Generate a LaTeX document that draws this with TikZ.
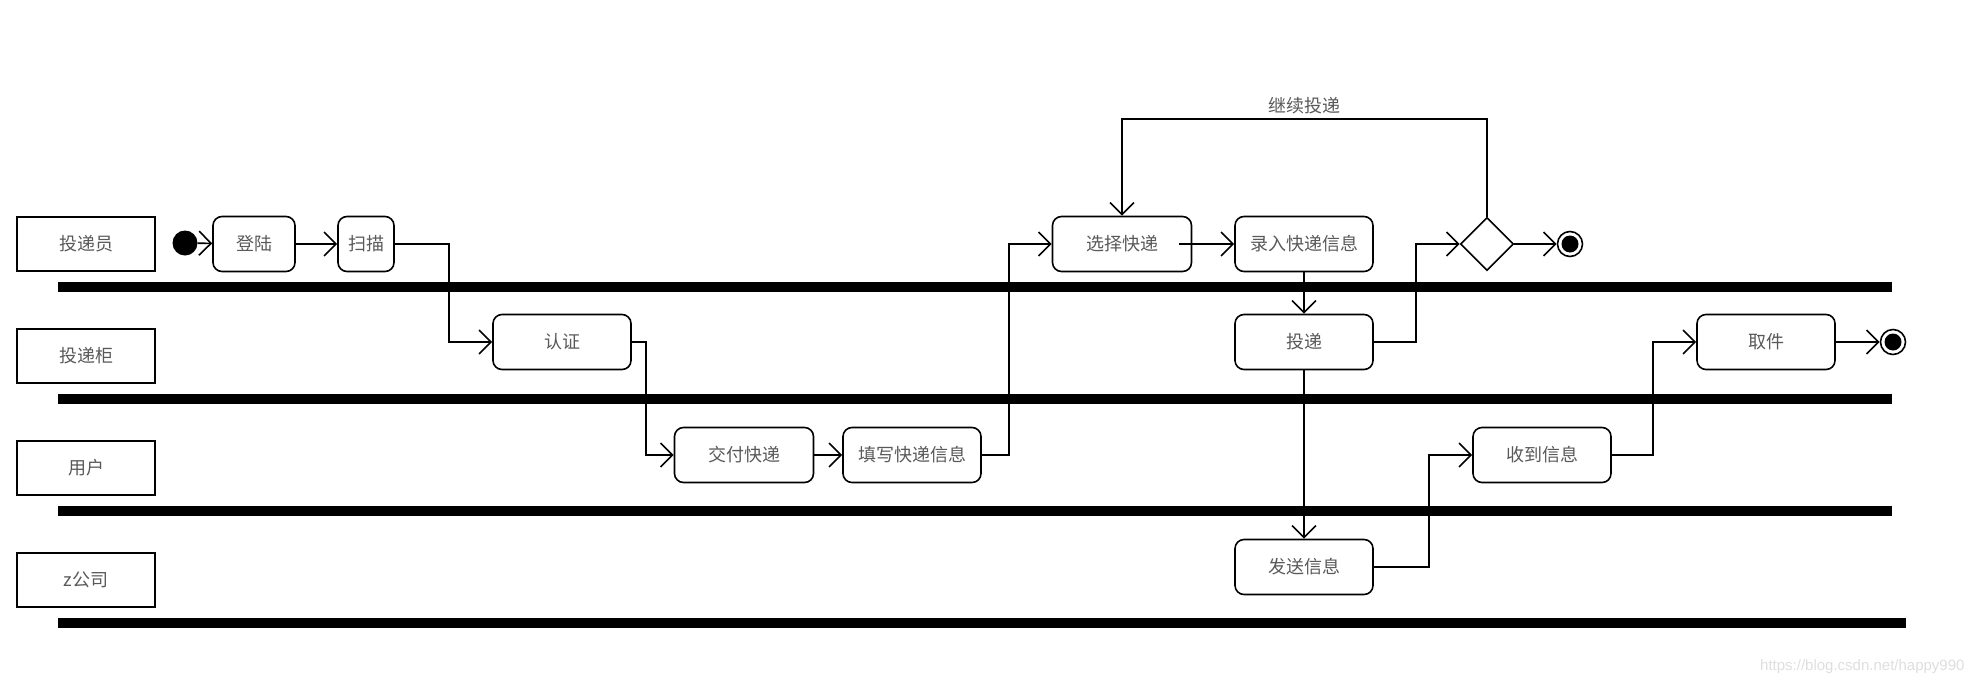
\documentclass[tikz,border=0pt]{standalone}
\usepackage{fontspec}
\setmainfont{Noto Sans CJK SC}
\newfontfamily\wmfont{Liberation Sans}
\usetikzlibrary{arrows.meta,shapes.geometric}
\begin{document}
\begin{tikzpicture}[x=1pt,y=-1pt,
  lane/.style={draw, line width=1.6pt, minimum width=138pt, minimum height=54pt, inner sep=0pt,
    font=\fontsize{18}{20}\selectfont, text=black!65},
  act/.style={draw, line width=1.6pt, rounded corners=9pt, minimum height=55pt, inner sep=0pt,
    font=\fontsize{18}{20}\selectfont, text=black!65},
  bar/.style={line width=10pt},
  conn/.style={line width=1.6pt, -{Straight Barb[length=12pt,width=24pt,line width=1.6pt]}},
  startnode/.style={circle, fill=black, minimum size=25pt, inner sep=0pt},
  endnode/.style={circle, draw, line width=1.6pt, fill=white, minimum size=25pt, inner sep=0pt,
    path picture={\fill[black] (path picture bounding box.center) circle (8.5pt);}},
  decision/.style={diamond, draw, line width=1.6pt, minimum width=53pt, minimum height=53pt, inner sep=0pt, aspect=1},
  lbl/.style={font=\fontsize{18}{20}\selectfont, text=black!65}
]
\useasboundingbox (0,0) rectangle (1978,686);

% swimlane bars
\draw[bar] (58,287) -- (1892,287);
\draw[bar] (58,399) -- (1892,399);
\draw[bar] (58,511) -- (1892,511);
\draw[bar] (58,623) -- (1906,623);

% lane labels
\node[lane] (l1) at (86,244) {投递员};
\node[lane] (l2) at (86,356) {投递柜};
\node[lane] (l3) at (86,468) {用户};
\node[lane] (l4) at (86,580) {z公司};

% activities
\node[startnode] (init) at (185,243) {};
\node[act, minimum width=82pt] (login) at (254,244) {登陆};
\node[act, minimum width=56pt] (scan) at (366,244) {扫描};
\node[act, minimum width=138pt] (auth) at (562,342) {认证};
\node[act, minimum width=139pt] (hand) at (744,455) {交付快递};
\node[act, minimum width=138pt] (fill) at (912,455) {填写快递信息};
\node[act, minimum width=139pt] (sel) at (1122,244) {选择快递};
\node[act, minimum width=138pt] (rec) at (1304,244) {录入快递信息};
\node[act, minimum width=138pt] (put) at (1304,342) {投递};
\node[decision] (dec) at (1487,244) {};
\node[endnode] (fin1) at (1570,244) {};
\node[act, minimum width=138pt] (take) at (1766,342) {取件};
\node[endnode] (fin2) at (1893,342) {};
\node[act, minimum width=138pt] (recv) at (1542,455) {收到信息};
\node[act, minimum width=138pt] (send) at (1304,567) {发送信息};

% connectors
\draw[conn] (init) -- (login);
\draw[conn] (login) -- (scan);
\draw[conn] (scan.east) -| ([xshift=-43pt]auth.west) -- (auth.west);
\draw[conn] (auth.east) -| ([xshift=-28pt]hand.west) -- (hand.west);
\draw[conn] (hand) -- (fill);
\draw[conn] (fill.east) -| ([xshift=-43pt]sel.west) -- (sel.west);
\draw[conn] ([xshift=-13pt]sel.east) -- (rec.west);
\draw[conn] (rec.south) -- (put.north);
\draw[conn] (put.east) -| ([xshift=-44pt]dec.west) -- (dec.west);
\draw[conn] (dec.east) -- (fin1.west);
\draw[conn] (dec.north) -- ++(0,-98) -| node[lbl, pos=0.25, above=1pt] (loopl) {继续投递} (sel.north);
\draw[conn] (put.south) -- (send.north);
\draw[conn] (send.east) -| ([xshift=-43pt]recv.west) -- (recv.west);
\draw[conn] (recv.east) -| ([xshift=-43pt]take.west) -- (take.west);
\draw[conn] (take.east) -- (fin2.west);

% watermark
\node[font=\wmfont\fontsize{15}{16}\selectfont, text=black!13, anchor=east] (wm) at (1968,667) {https://blog.csdn.net/happy990};
\end{tikzpicture}
\end{document}
